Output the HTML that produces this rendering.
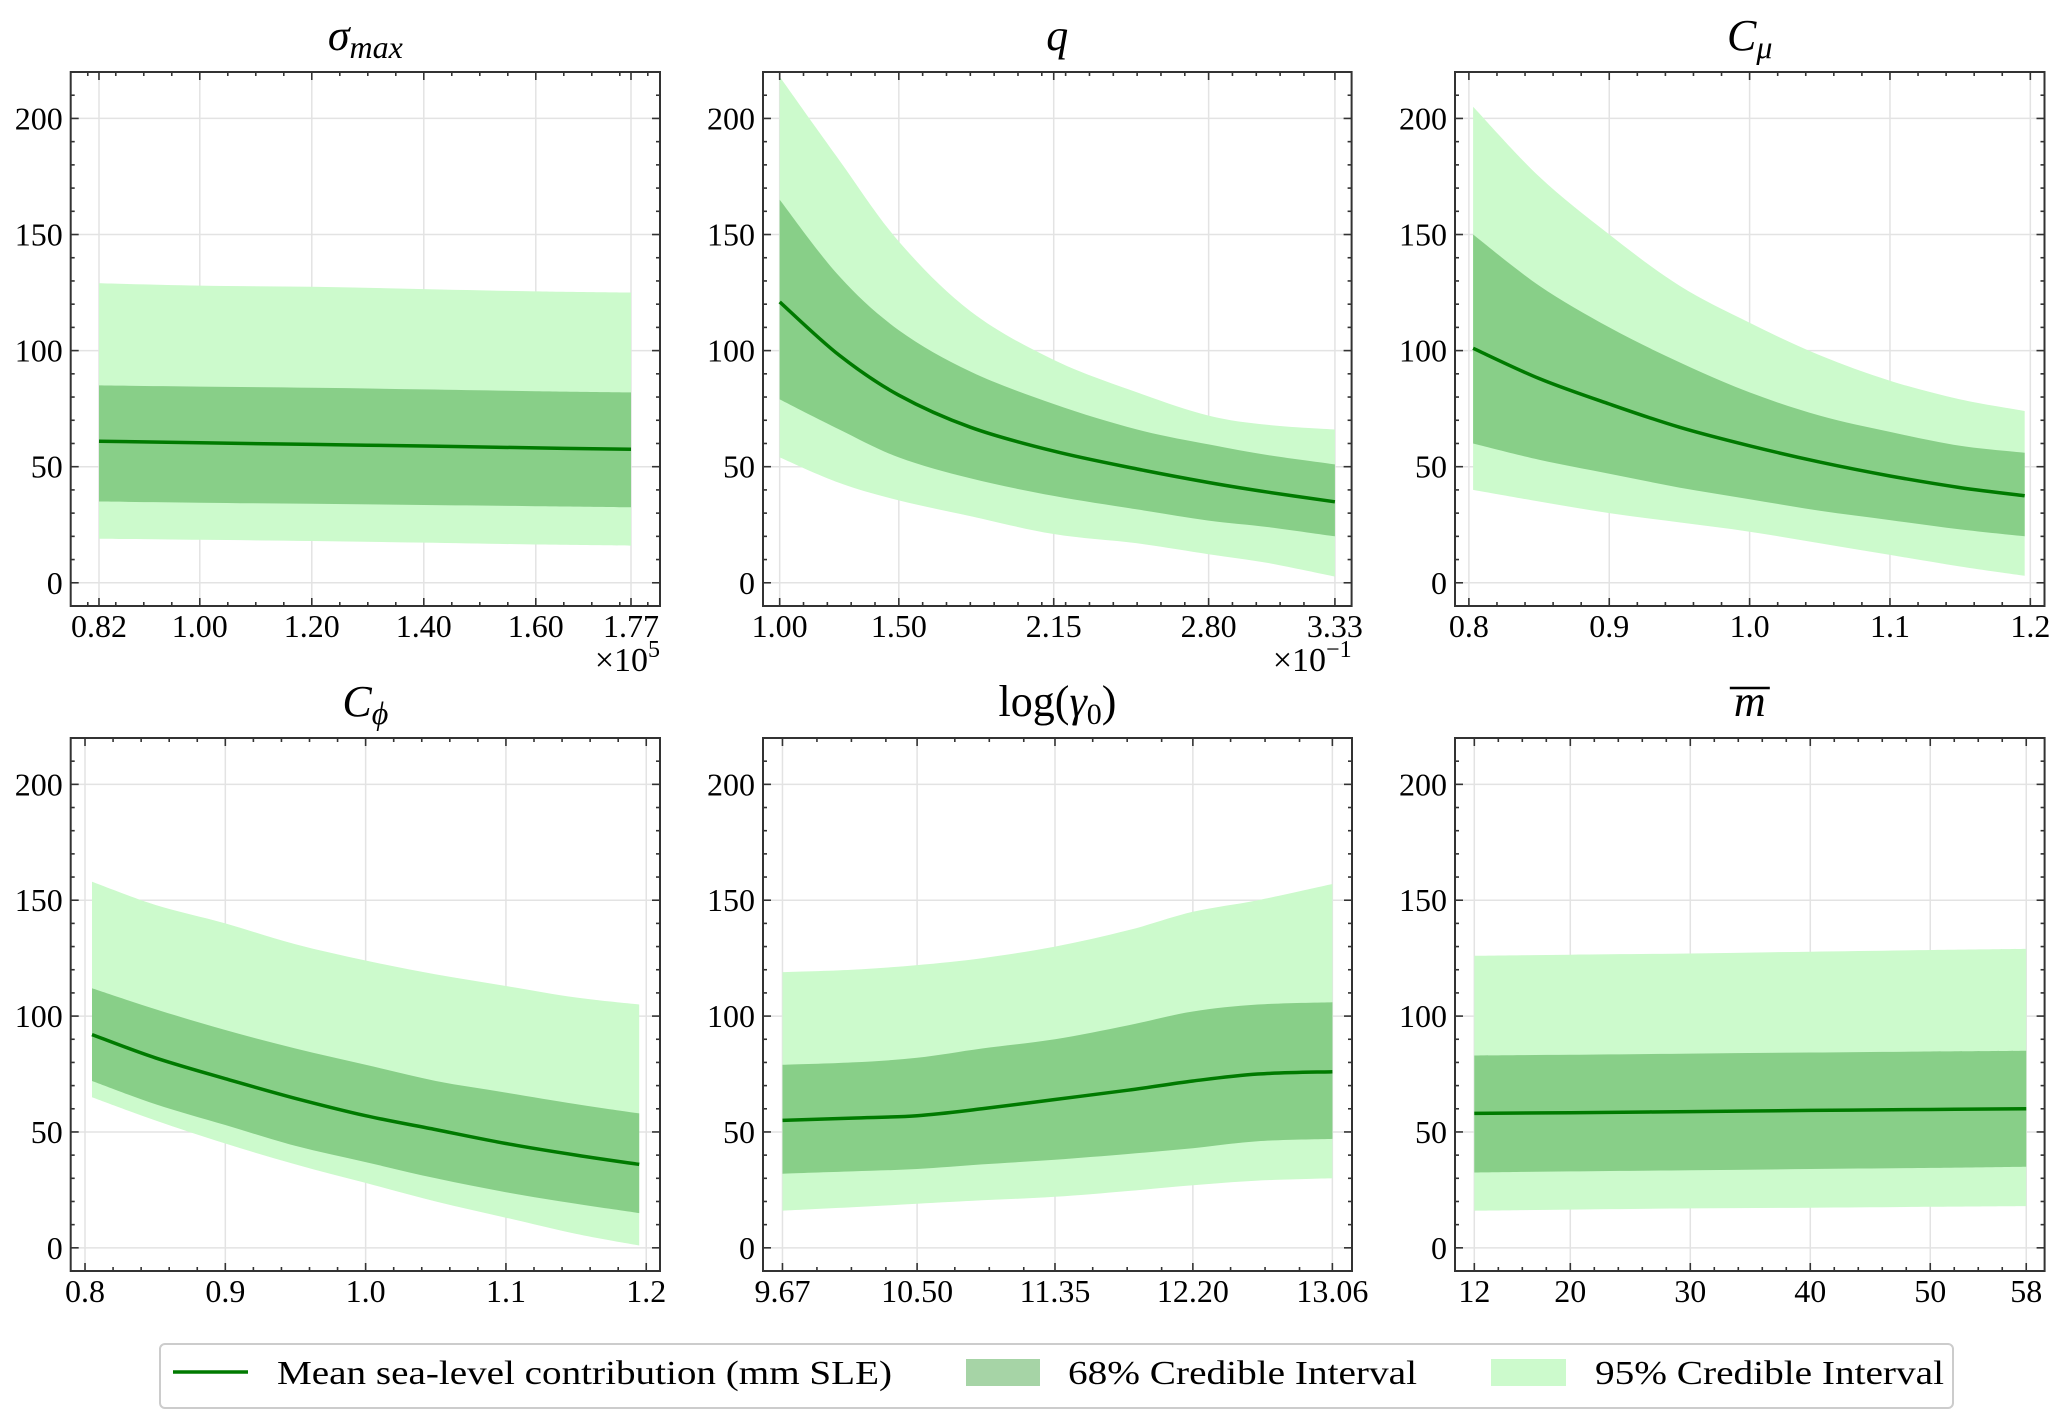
<!DOCTYPE html>
<html><head><meta charset="utf-8">
<style>
html,body{margin:0;padding:0;background:#fff;}
svg{display:block;font-family:"Liberation Serif","DejaVu Serif",serif;}
</style></head>
<body>
<svg id="fig" width="2067" height="1428" viewBox="0 0 2067 1428" xmlns="http://www.w3.org/2000/svg">
<rect x="0" y="0" width="2067" height="1428" fill="#fff"/>
<g id="panels"></g>
<g id="legend">
  <rect x="160" y="1344" width="1793" height="64" rx="5" fill="#fff" stroke="#cccccc" stroke-width="2"/>
  <line x1="173" y1="1372" x2="248" y2="1372" stroke="#007a00" stroke-width="3.5"/>
  <text x="277" y="1384" font-size="34" textLength="615" lengthAdjust="spacingAndGlyphs">Mean sea-level contribution (mm SLE)</text>
  <rect x="966" y="1359" width="74" height="27" fill="#a6d4a6"/>
  <text x="1068" y="1384" font-size="34" textLength="349" lengthAdjust="spacingAndGlyphs">68% Credible Interval</text>
  <rect x="1491" y="1359" width="75" height="27" fill="#ccfacc"/>
  <text x="1595" y="1384" font-size="34" textLength="349" lengthAdjust="spacingAndGlyphs">95% Credible Interval</text>
</g>
</svg>
<script>
// ---- data ----
const p1X = [0.82, 1.00, 1.20, 1.40, 1.60, 1.77];
const p1Mean = [61, 60.3, 59.6, 58.9, 58.1, 57.5];
const p1Lo68 = [35, 34.5, 34, 33.5, 33, 32.5];
const p1Hi68 = [85, 84.5, 84, 83.3, 82.5, 82];
const p1Lo95 = [19, 18.5, 18, 17.3, 16.5, 16];
const p1Hi95 = [129, 128, 127.5, 126.5, 125.5, 125];

const p2X = [1.00, 1.25, 1.50, 1.80, 2.15, 2.50, 2.80, 3.05, 3.33];
const p2Mean = [121, 98, 80.8, 67, 56.7, 49, 43.2, 39, 34.9];
const p2Lo68 = [79, 66, 54, 45, 37.4, 31.6, 26.8, 24, 20];
const p2Hi68 = [165, 132, 108.8, 91, 77, 66, 59.6, 55, 51];
const p2Lo95 = [54, 43, 35.5, 28.7, 21, 17, 12.3, 8.5, 2.7];
const p2Hi95 = [218, 182, 147, 117, 96, 82, 72, 68, 66];

const p3X = [0.803, 0.85, 0.90, 0.95, 1.00, 1.05, 1.10, 1.15, 1.196];
const p3Mean = [101, 88, 77, 67, 59, 52, 46, 41, 37.5];
const p3Lo68 = [60, 53, 47, 41, 36, 31, 27, 23, 20];
const p3Hi68 = [150, 128, 110, 95, 82, 72, 65, 59, 56];
const p3Lo95 = [40, 35, 30, 26, 22, 17, 12, 7, 3];
const p3Hi95 = [205, 175, 150, 128, 112, 98, 87, 79, 74];

const p4X = [0.805, 0.85, 0.90, 0.95, 1.00, 1.05, 1.10, 1.15, 1.195];
const p4Mean = [92, 82, 73, 64.5, 57, 51, 45, 40, 36];
const p4Lo68 = [72, 62, 53, 44, 37, 30, 24, 19, 15];
const p4Hi68 = [112, 103, 94, 86, 79, 72, 67, 62, 58];
const p4Lo95 = [65, 55, 45, 36, 28, 20, 13, 6, 1];
const p4Hi95 = [158, 148, 140, 131, 124, 118, 113, 108, 105];

const p5X = [9.67, 10.10, 10.50, 10.90, 11.35, 11.80, 12.20, 12.60, 13.06];
const p5Mean = [55, 56, 57, 60, 64, 68, 72, 75, 76];
const p5Lo68 = [32, 33, 34, 36, 38, 40.5, 43, 46, 47];
const p5Hi68 = [79, 80, 82, 86, 90, 96, 102, 105, 106];
const p5Lo95 = [16, 17.5, 19, 20.5, 22, 24.5, 27, 29, 30];
const p5Hi95 = [119, 120, 122, 125, 130, 137, 145, 150, 157];

const p6X = [12, 20, 30, 40, 50, 58];
const p6Mean = [58, 58.3, 58.8, 59.3, 59.7, 60];
const p6Lo68 = [32.5, 33, 33.5, 34, 34.5, 35];
const p6Hi68 = [83, 83.3, 83.8, 84.3, 84.7, 85];
const p6Lo95 = [16, 16.5, 17, 17.3, 17.7, 18];
const p6Hi95 = [126, 126.5, 127, 127.8, 128.5, 129];

const p1Ticks = [0.82, 1.00, 1.20, 1.40, 1.60, 1.77];
const p1TickLabels = ["0.82", "1.00", "1.20", "1.40", "1.60", "1.77"];
const p2Ticks = [1.00, 1.50, 2.15, 2.80, 3.33];
const p2TickLabels = ["1.00", "1.50", "2.15", "2.80", "3.33"];
const p3Ticks = [0.8, 0.9, 1.0, 1.1, 1.2];
const p3TickLabels = ["0.8", "0.9", "1.0", "1.1", "1.2"];
const p5Ticks = [9.67, 10.50, 11.35, 12.20, 13.06];
const p5TickLabels = ["9.67", "10.50", "11.35", "12.20", "13.06"];
const p6Ticks = [12, 20, 30, 40, 50, 58];
const p6TickLabels = ["12", "20", "30", "40", "50", "58"];
const yTicks = [0, 50, 100, 150, 200];
const yTickLabels = ["0", "50", "100", "150", "200"];

const NS = "http://www.w3.org/2000/svg";
const root = document.getElementById("panels");
function mk(tag, attrs, parent) {
  const e = document.createElementNS(NS, tag);
  for (const k in attrs) e.setAttribute(k, attrs[k]);
  (parent || root).appendChild(e);
  return e;
}
// Catmull-Rom smoothing of screen points
function smooth(pts, start) {
  let d = (start ? "M" : "L") + pts[0][0].toFixed(1) + "," + pts[0][1].toFixed(1);
  for (let i = 0; i < pts.length - 1; i++) {
    const p0 = pts[Math.max(0, i - 1)], p1 = pts[i], p2 = pts[i + 1], p3 = pts[Math.min(pts.length - 1, i + 2)];
    const c1 = [p1[0] + (p2[0] - p0[0]) / 6, p1[1] + (p2[1] - p0[1]) / 6];
    const c2 = [p2[0] - (p3[0] - p1[0]) / 6, p2[1] - (p3[1] - p1[1]) / 6];
    d += "C" + c1[0].toFixed(1) + "," + c1[1].toFixed(1) + " " + c2[0].toFixed(1) + "," + c2[1].toFixed(1) + " " + p2[0].toFixed(1) + "," + p2[1].toFixed(1);
  }
  return d;
}

const panels = [
  {key:"sigma-max", L:70.7, R:660, T:72, B:606, xlim:[0.7695,1.8218], xs:p1X, mean:p1Mean, lo68:p1Lo68, hi68:p1Hi68, lo95:p1Lo95, hi95:p1Hi95, ticks:p1Ticks, labels:p1TickLabels, minor:{base:0, step:0.05}, title:"sigma", offset:"5"},
  {key:"q", L:763, R:1351.6, T:72, B:606, xlim:[0.930,3.400], xs:p2X, mean:p2Mean, lo68:p2Lo68, hi68:p2Hi68, lo95:p2Lo95, hi95:p2Hi95, ticks:p2Ticks, labels:p2TickLabels, minor:{base:0, step:0.1}, title:"q", offset:"−1"},
  {key:"c-mu", L:1455, R:2044.5, T:72, B:606, xlim:[0.7901,1.2101], xs:p3X, mean:p3Mean, lo68:p3Lo68, hi68:p3Hi68, lo95:p3Lo95, hi95:p3Hi95, ticks:p3Ticks, labels:p3TickLabels, minor:{base:0, step:0.02}, title:"cmu"},
  {key:"c-phi", L:70.7, R:660, T:738, B:1271, xlim:[0.7898,1.2098], xs:p4X, mean:p4Mean, lo68:p4Lo68, hi68:p4Hi68, lo95:p4Lo95, hi95:p4Hi95, ticks:p3Ticks, labels:p3TickLabels, minor:{base:0, step:0.02}, title:"cphi"},
  {key:"log-gamma0", L:763, R:1352, T:738, B:1271, xlim:[9.550,13.181], xs:p5X, mean:p5Mean, lo68:p5Lo68, hi68:p5Hi68, lo95:p5Lo95, hi95:p5Hi95, ticks:p5Ticks, labels:p5TickLabels, minor:{base:9.67, step:0.2125}, title:"log"},
  {key:"m-bar", L:1455, R:2044.6, T:738, B:1271, xlim:[10.39,59.53], xs:p6X, mean:p6Mean, lo68:p6Lo68, hi68:p6Hi68, lo95:p6Lo95, hi95:p6Hi95, ticks:p6Ticks, labels:p6TickLabels, minor:{base:0, step:2}, title:"mbar"}
];
const YLIM = [-10, 220];

panels.forEach(p => {
  const g = mk("g", {});
  
  
  const xs = v => p.L + (v - p.xlim[0]) / (p.xlim[1] - p.xlim[0]) * (p.R - p.L);
  const ys = v => p.B - (v - YLIM[0]) / (YLIM[1] - YLIM[0]) * (p.B - p.T);

  yTicks.forEach(t => {
    const l = mk("line", {x1:p.L, x2:p.R, y1:ys(t), y2:ys(t), stroke:"#e3e3e3", "stroke-width":1.5}, g);
    
    
  });
  p.ticks.forEach(t => {
    const l = mk("line", {x1:xs(t), x2:xs(t), y1:p.T, y2:p.B, stroke:"#e3e3e3", "stroke-width":1.5}, g);
    
    
  });

  function band(lo, hi, color, name) {
    const top = p.xs.map((x, i) => [xs(x), ys(hi[i])]);
    const bot = p.xs.map((x, i) => [xs(x), ys(lo[i])]).reverse();
    const d = smooth(top, true) + smooth(bot, false) + "Z";
    const e = mk("path", {d: d, fill: color}, g);
    
    
  }
  band(p.lo95, p.hi95, "#ccfacc", "band-95");
  band(p.lo68, p.hi68, "#88cf88", "band-68");
  const mpts = p.xs.map((x, i) => [xs(x), ys(p.mean[i])]);
  const ml = mk("path", {d: smooth(mpts, true), fill: "none", stroke: "#007a00", "stroke-width": 3.5, "stroke-linejoin":"round"}, g);
  
  

  const fr = mk("rect", {x:p.L, y:p.T, width:p.R - p.L, height:p.B - p.T, fill:"none", stroke:"#333", "stroke-width":2}, g);
  
  

  const tk = mk("g", {stroke:"#333", "stroke-width":1.6}, g);
  
  
  yTicks.forEach(t => {
    mk("line", {x1:p.L, x2:p.L + 8, y1:ys(t), y2:ys(t)}, tk);
    mk("line", {x1:p.R, x2:p.R - 8, y1:ys(t), y2:ys(t)}, tk);
  });
  for (let v = -10; v <= 220; v += 10) {
    if (v % 50 === 0) continue;
    mk("line", {x1:p.L, x2:p.L + 4, y1:ys(v), y2:ys(v)}, tk);
    mk("line", {x1:p.R, x2:p.R - 4, y1:ys(v), y2:ys(v)}, tk);
  }
  p.ticks.forEach(t => {
    mk("line", {x1:xs(t), x2:xs(t), y1:p.B, y2:p.B - 8}, tk);
    mk("line", {x1:xs(t), x2:xs(t), y1:p.T, y2:p.T + 8}, tk);
  });
  const st = p.minor.step, b = p.minor.base;
  for (let k = Math.ceil((p.xlim[0] - b) / st); b + k * st <= p.xlim[1]; k++) {
    const v = b + k * st;
    if (p.ticks.some(t => Math.abs(t - v) < st * 0.3)) continue;
    mk("line", {x1:xs(v), x2:xs(v), y1:p.B, y2:p.B - 4}, tk);
    mk("line", {x1:xs(v), x2:xs(v), y1:p.T, y2:p.T + 4}, tk);
  }

  yTicks.forEach((t, i) => {
    const e = mk("text", {x:p.L - 8, y:ys(t) + 11, "font-size":32, "text-anchor":"end"}, g);
    e.textContent = yTickLabels[i];
    
    
  });
  p.ticks.forEach((t, i) => {
    const e = mk("text", {x:xs(t), y:p.B + 31, "font-size":32, "text-anchor":"middle"}, g);
    e.textContent = p.labels[i];
    
    
  });

  if (p.offset) {
    const e = mk("text", {x:p.R, y:p.B + 65, "font-size":34, "text-anchor":"end"}, g);
    
    
    const a = mk("tspan", {}, e); a.textContent = "×10";
    const s = mk("tspan", {dy:-14, "font-size":24}, e); s.textContent = p.offset;
  }

  const cx = (p.L + p.R) / 2, ty = p.T - 22;
  const tt = mk("text", {x:cx, y:ty, "font-size":44, "text-anchor":"middle", "font-style":"italic"}, g);
  
  
  if (p.title === "sigma") {
    mk("tspan", {}, tt).textContent = "σ";
    mk("tspan", {dy:8, "font-size":32}, tt).textContent = "max";
  } else if (p.title === "q") {
    tt.textContent = "q";
  } else if (p.title === "cmu") {
    mk("tspan", {}, tt).textContent = "C";
    mk("tspan", {dy:8, "font-size":32}, tt).textContent = "μ";
  } else if (p.title === "cphi") {
    mk("tspan", {}, tt).textContent = "C";
    mk("tspan", {dy:8, "font-size":32}, tt).textContent = "ϕ";
  } else if (p.title === "log") {
    tt.setAttribute("font-style", "normal");
    mk("tspan", {}, tt).textContent = "log(";
    mk("tspan", {"font-style":"italic"}, tt).textContent = "γ";
    mk("tspan", {dy:8, "font-size":30}, tt).textContent = "0";
    mk("tspan", {dy:-8}, tt).textContent = ")";
  } else if (p.title === "mbar") {
    tt.textContent = "m";
    const ob = mk("line", {x1:cx - 20, x2:cx + 20, y1:ty - 28, y2:ty - 28, stroke:"#000", "stroke-width":2.5}, g);
    
    
  }
});
</script>
</body></html>
